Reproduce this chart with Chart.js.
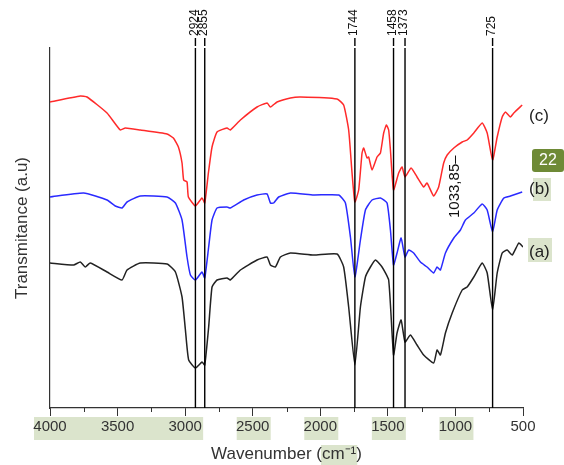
<!DOCTYPE html>
<html>
<head>
<meta charset="utf-8">
<script src="https://cdn.jsdelivr.net/npm/chart.js@4"></script>
<style>
  html, body { margin: 0; padding: 0; background: #fff; }
</style>
</head>
<body>
<canvas id="ftir" width="564" height="465"></canvas>
<script>
// FTIR spectra (a), (b), (c), arbitrary units

// (c) red
const wnC = [4000,3776,3726,3578,3480,3443,3332,3134,3087,3050,3023,3011,2986,2976,2924,2875,2855,2828,2801,2764,2690,2666,2591,2468,2394,2369,2320,2221,2147,1876,1827,1790,1765,1744,1716,1691,1679,1654,1642,1617,1580,1555,1531,1511,1494,1481,1458,1420,1395,1373,1328,1284,1235,1210,1161,1124,1087,1061,1012,950,913,864,802,765,725,691,654,630,593,568,506];
const tC = [306,312,311,295,278,280,278,274,270,261,245,228,226,211,202,210,205,235,261,276,280,278,288,301,305,301,306,310,311,309,303,278,235,206,218,255,260,250,251,238,251,255,275,283,278,258,218,235,241,231,240,231,221,225,212,221,245,253,260,266,268,275,285,275,248,271,291,296,291,295,303];

// (b) blue
const wnB = [4000,3751,3578,3517,3467,3430,3332,3134,3072,3023,2986,2961,2924,2875,2855,2826,2801,2764,2690,2666,2567,2468,2394,2369,2345,2308,2221,2049,1864,1814,1777,1744,1703,1666,1617,1555,1506,1481,1458,1432,1402,1373,1346,1309,1259,1210,1161,1136,1111,1074,1012,963,926,864,802,765,725,691,642,593,506];
const tB = [211,215,208,202,200,206,212,211,205,188,151,133,128,136,130,161,188,200,201,200,208,213,214,205,205,211,215,213,213,205,171,131,168,198,208,210,205,178,143,155,170,151,158,155,146,141,135,141,138,155,170,178,188,195,204,198,176,198,210,212,216];

// (a) black
const wnA = [4000,3825,3776,3739,3702,3578,3467,3430,3332,3134,3072,3023,2998,2974,2924,2875,2855,2826,2801,2764,2690,2666,2591,2468,2394,2369,2332,2295,2221,2049,1876,1827,1790,1744,1703,1666,1629,1592,1543,1494,1458,1432,1402,1373,1333,1284,1235,1161,1136,1111,1074,1024,950,913,864,802,765,725,691,654,617,580,531,500];
const tA = [145,143,146,141,145,136,128,138,145,144,136,111,78,48,40,46,43,81,121,128,130,128,138,148,151,143,141,151,155,153,154,141,101,43,101,131,141,148,141,128,53,75,88,66,73,63,53,45,58,53,75,95,118,121,131,145,135,98,135,155,158,153,165,161];

// marked bands
const peakWn = [2924, 2855, 1744, 1458, 1373, 725];
const extraPeak = 1033.85;
const seriesNames = ['(a)', '(b)', '(c)'];
// tick labels carrying the light green highlight
const highlightRuns = [[4000, 3000], [2500, 2500], [2000, 2000], [1500, 1500], [1000, 1000]];

const FONT = "'Liberation Sans', Arial, sans-serif";
const TEXT = '#333';

function pts(wn, t) {
    return wn.map((w, i) => ({ x: w, y: t[i] }));
}

const overlay = {
    id: 'overlay',
    beforeDraw(chart) {
        const { ctx, scales: { x }, chartArea } = chart;
        ctx.save();
        ctx.fillStyle = '#dbe4cc';
        highlightRuns.forEach(([a, b]) => {
            const x1 = x.getPixelForValue(a) - 16;
            const x2 = x.getPixelForValue(b) + 18;
            ctx.fillRect(x1, 417, x2 - x1, 23);
        });
        // highlight behind "cm" in the axis title
        ctx.font = '17px ' + FONT;
        const full = x.options.title.text;
        const W = ctx.measureText(full).width;
        const start = (chartArea.left + chartArea.right) / 2 - W / 2;
        const w1 = ctx.measureText('Wavenumber (').width;
        const w2 = ctx.measureText('cm\u207B\u00B9').width;
        ctx.fillRect(start + w1 - 1, 445, w2 + 2, 20);
        // highlight behind (b) and (a)
        ctx.fillRect(533, 178, 18, 23);
        ctx.fillRect(528, 238, 24, 24);
        ctx.restore();
    },
    afterDraw(chart) {
        const { ctx, scales: { x, y }, chartArea } = chart;
        ctx.save();
        // minor ticks halfway between the labelled ones
        ctx.strokeStyle = TEXT;
        ctx.lineWidth = 1;
        const ticks = x.ticks;
        for (let i = 0; i < ticks.length - 1; i++) {
            const px = Math.round(x.getPixelForValue((ticks[i].value + ticks[i + 1].value) / 2)) + 0.5;
            ctx.beginPath();
            ctx.moveTo(px, chartArea.bottom);
            ctx.lineTo(px, chartArea.bottom + 4);
            ctx.stroke();
        }
        // vertical band lines with their labels
        ctx.strokeStyle = '#000';
        ctx.fillStyle = '#111';
        ctx.font = '12px ' + FONT;
        peakWn.forEach(w => {
            const px = x.getPixelForValue(w);
            ctx.lineWidth = 1.4;
            ctx.beginPath();
            ctx.moveTo(px, chartArea.top);
            ctx.lineTo(px, chartArea.bottom);
            ctx.moveTo(px, chartArea.top - 10);
            ctx.lineTo(px, chartArea.top - 2);
            ctx.stroke();
            ctx.save();
            ctx.translate(px - 1, chartArea.top - 12);
            ctx.rotate(-Math.PI / 2);
            ctx.textAlign = 'left';
            ctx.textBaseline = 'middle';
            ctx.fillText(String(w), 0, 0);
            ctx.restore();
        });
        // 1033,85 label
        ctx.save();
        ctx.font = '15px ' + FONT;
        ctx.translate(x.getPixelForValue(extraPeak) + 4, y.getPixelForValue(190));
        ctx.rotate(-Math.PI / 2);
        ctx.textAlign = 'left';
        ctx.textBaseline = 'middle';
        ctx.fillText('1033,85\u2013', 0, 0);
        ctx.restore();
        // series labels at the right end
        ctx.font = '17px ' + FONT;
        ctx.fillStyle = '#222';
        ctx.textAlign = 'left';
        ctx.textBaseline = 'middle';
        const ends = [tA[tA.length - 1] - 5, tB[tB.length - 1] + 3, tC[tC.length - 1] - 11];
        seriesNames.forEach((s, i) => {
            ctx.fillText(s, chartArea.right + 6, y.getPixelForValue(ends[i]));
        });
        // page badge
        ctx.fillStyle = '#6e8a36';
        ctx.beginPath();
        ctx.roundRect(532, 149, 32, 23, 3);
        ctx.fill();
        ctx.fillStyle = '#fff';
        ctx.font = '16px ' + FONT;
        ctx.textAlign = 'center';
        ctx.fillText('22', 548, 161);
        ctx.restore();
    }
};

const lineStyle = { borderWidth: 1.5, pointRadius: 0, tension: 0.15, fill: false };

new Chart(document.getElementById('ftir'), {
    type: 'line',
    data: {
        datasets: [
            { label: '(c)', data: pts(wnC, tC), borderColor: '#ff2a2a', ...lineStyle },
            { label: '(b)', data: pts(wnB, tB), borderColor: '#2a2aff', ...lineStyle },
            { label: '(a)', data: pts(wnA, tA), borderColor: '#222222', ...lineStyle }
        ]
    },
    options: {
        responsive: false,
        animation: false,
        layout: { padding: { left: 0, top: 48, right: 41, bottom: 0 } },
        plugins: {
            legend: { display: false },
            tooltip: { enabled: false }
        },
        scales: {
            x: {
                type: 'linear',
                reverse: true,
                min: 500,
                max: 4000,
                afterFit: s => { s.height = 57; },
                ticks: {
                    stepSize: 500,
                    padding: 2,
                    color: TEXT,
                    font: { family: FONT, size: 15 },
                    maxRotation: 0,
                    callback: v => String(v)
                },
                grid: {
                    display: true,
                    drawOnChartArea: false,
                    drawTicks: true,
                    tickLength: 8,
                    color: TEXT
                },
                border: { display: true, color: TEXT, width: 1.2 },
                title: {
                    display: true,
                    text: 'Wavenumber (cm\u207B\u00B9)',
                    color: TEXT,
                    font: { family: FONT, size: 17 },
                    padding: { top: 0, bottom: 0 }
                }
            },
            y: {
                min: 0,
                max: 360,
                afterFit: s => { s.width = 50; },
                ticks: { display: false },
                grid: { display: false },
                border: { display: true, color: TEXT, width: 1.2 },
                title: {
                    display: true,
                    text: 'Transmitance (a.u)',
                    color: TEXT,
                    font: { family: FONT, size: 17 },
                    padding: { top: 12, bottom: 0 }
                }
            }
        }
    },
    plugins: [overlay]
});
</script>
</body>
</html>
